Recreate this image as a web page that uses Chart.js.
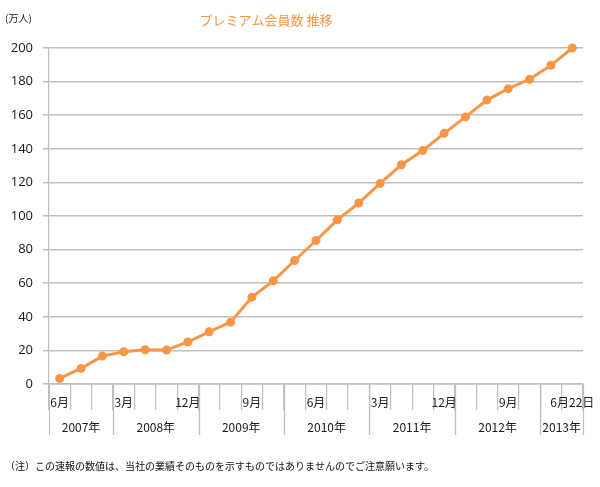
<!DOCTYPE html>
<html>
<head>
<meta charset="utf-8">
<script src="https://cdn.jsdelivr.net/npm/chart.js@4/dist/chart.umd.min.js"></script>
<style>
  html, body { margin: 0; padding: 0; background: #fff; }
  #wrap { width: 600px; height: 487px; position: relative; }
</style>
</head>
<body>
<div id="wrap"><canvas id="chart"></canvas></div>
<script>
// ── Data ───────────────────────────────────────────────
const QUARTERS = ['6月','9月','12月','3月','6月','9月','12月','3月','6月','9月','12月',
                  '3月','6月','9月','12月','3月','6月','9月','12月','3月','6月','9月','12月',
                  '3月','6月22日'];
const MEMBERS  = [3.3, 9.3, 16.6, 19.2, 20.4, 20.2, 25, 31.1, 36.8, 51.7, 61.4,
                  73.5, 85.4, 97.7, 107.7, 119.4, 130.5, 139, 149.2, 159, 169,
                  175.8, 181.4, 189.7, 200];
const YEARS       = ['2007年','2008年','2009年','2010年','2011年','2012年','2013年'];
const YEAR_START  = [0, 3, 7, 11, 15, 19, 23];
const YEAR_COUNT  = [3, 4, 4, 4, 4, 4, 2];
const Y_TICKS     = [0, 20, 40, 60, 80, 100, 120, 140, 160, 180, 200];

const ORANGE = '#F79646';
const GRID   = '#BFBFBF';
const JP     = '"Noto Sans CJK JP", "Noto Sans", sans-serif';

// ── Extra text + year row ──────────────────────────────
const decor = {
  id: 'decor',
  afterDraw(chart) {
    const { ctx, scales: { x } } = chart;
    const half = (x.getPixelForValue(1) - x.getPixelForValue(0)) / 2;
    const top = chart.chartArea.bottom;

    ctx.save();
    ctx.strokeStyle = GRID;
    ctx.lineWidth = 1.2;
    ctx.fillStyle = '#1a1a1a';
    ctx.font = '12px ' + JP;
    ctx.textAlign = 'center';
    ctx.textBaseline = 'middle';
    YEARS.forEach((yr, i) => {
      const l = x.getPixelForValue(YEAR_START[i]) - half;
      const r = x.getPixelForValue(YEAR_START[i] + YEAR_COUNT[i] - 1) + half;
      [l, r].forEach(px => {
        ctx.beginPath();
        ctx.moveTo(Math.round(px) + 0.5, top);
        ctx.lineTo(Math.round(px) + 0.5, top + 51);
        ctx.stroke();
      });
      ctx.fillText(yr, (l + r) / 2, top + 43);
    });

    // title & unit
    ctx.fillStyle = ORANGE;
    ctx.font = '13px ' + JP;
    ctx.fillText('プレミアム会員数 推移', 266, 20);
    ctx.fillStyle = '#1a1a1a';
    ctx.font = '10px ' + JP;
    ctx.textAlign = 'left';
    ctx.fillText('(万人)', 5, 18);

    // footnote
    ctx.fillStyle = '#111';
    ctx.font = '10px ' + JP;
    ctx.fillText('（注）この速報の数値は、当社の業績そのものを示すものではありませんのでご注意願います。', 5, 466);
    ctx.restore();
  }
};

new Chart(document.getElementById('chart'), {
  type: 'line',
  data: {
    labels: QUARTERS,
    datasets: [{
      data: MEMBERS,
      borderColor: ORANGE,
      backgroundColor: ORANGE,
      borderWidth: 3,
      pointRadius: 3,
      pointHoverRadius: 3,
      tension: 0,
      clip: false,
    }],
  },
  options: {
    responsive: true,
    maintainAspectRatio: false,
    animation: false,
    layout: { padding: { left: 0, right: 17, top: 48, bottom: 77 } },
    plugins: { legend: { display: false }, tooltip: { enabled: false } },
    scales: {
      x: {
        offset: true,
        grid: { offset: true, drawOnChartArea: false, drawTicks: true, tickLength: 26, color: GRID, lineWidth: 1.2 },
        border: { color: GRID, width: 1.5 },
        ticks: {
          autoSkip: false, maxRotation: 0, padding: -15, color: '#1a1a1a',
          font: { family: JP, size: 12 },
          callback: (v, i) => (i % 3 === 0 ? QUARTERS[i] : ''),
        },
        afterFit: s => { s.height = 26; },
      },
      y: {
        min: 0, max: 200,
        afterBuildTicks: s => { s.ticks = Y_TICKS.map(v => ({ value: v })); },
        grid: { color: GRID, lineWidth: 1.5, tickLength: 6 },
        border: { color: GRID, width: 1.2 },
        ticks: { color: '#1a1a1a', padding: 10, font: { family: '"Open Sans", sans-serif', size: 13 } },
        afterFit: s => { s.width = 49; },
      },
    },
  },
  plugins: [decor],
});
</script>
</body>
</html>
